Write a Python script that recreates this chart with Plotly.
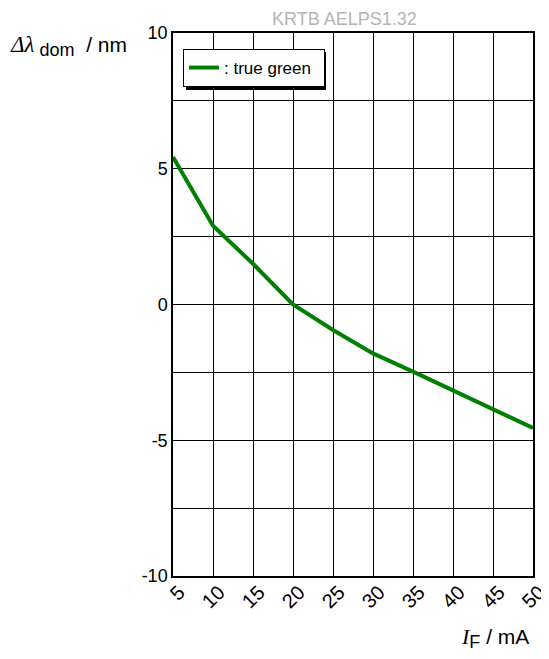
import plotly.graph_objects as go

current_ma = [5, 10, 15, 20, 25, 30, 35, 40, 45, 50]
delta_lambda = [5.43, 2.9, 1.5, 0.0, -0.94, -1.8, -2.47, -3.17, -3.88, -4.55]
series_name = ": true green"
x_ticks = [5, 10, 15, 20, 25, 30, 35, 40, 45, 50]
y_ticks = [-10, -5, 0, 5, 10]
y_tick_labels = ["-10", "-5", "0", "5", "10"]

font = "Liberation Sans, Arial, Helvetica, sans-serif"
serif = "Liberation Serif, Times New Roman, serif"
OFF = 8  # page body margin in the browser
W, H = 549 - OFF, 659 - OFF
L, R, T, B = 173 - OFF, 16, 33 - OFF, 83
pw = W - L - R
ph = H - T - B


def px(x):
    return (x - OFF - L) / pw


def py(y):
    return (H - B - (y - OFF)) / ph


fig = go.Figure()
fig.add_trace(go.Scatter(x=current_ma, y=delta_lambda, mode="lines",
                         line=dict(color="#007f00", width=4),
                         name=series_name, showlegend=True))

fig.update_layout(
    width=W, height=H,
    margin=dict(l=L, r=R, t=T, b=B, autoexpand=False),
    paper_bgcolor="white", plot_bgcolor="white",
    font=dict(family=font, size=18, color="black"),
    showlegend=True,
    legend=dict(x=px(183), y=py(49), xanchor="left", yanchor="top",
                orientation="h",
                bgcolor="white", bordercolor="black", borderwidth=1,
                font=dict(size=17), itemwidth=30, tracegroupgap=0,
                entrywidth=95),
    xaxis=dict(range=[5, 50], tickvals=x_ticks, ticktext=[str(v) for v in x_ticks],
               tickangle=-45, tickfont=dict(size=20),
               ticklabelshift=6, ticklabelstandoff=-5,
               showgrid=True, gridcolor="black", gridwidth=1,
               showline=True, linecolor="black", linewidth=1.5, mirror=True,
               ticks="", zeroline=False, fixedrange=True, automargin=False),
    yaxis=dict(range=[-10, 10], tickvals=y_ticks, ticktext=y_tick_labels,
               showgrid=True, gridcolor="black", gridwidth=1,
               showline=True, linecolor="black", linewidth=1.5, mirror=True,
               ticks="inside", ticklen=4, tickcolor="black",
               minor=dict(dtick=2.5, showgrid=True, gridcolor="black", gridwidth=1,
                          ticks="inside", ticklen=4, tickcolor="black"),
               zeroline=False, fixedrange=True, automargin=False),
    annotations=[
        dict(text="KRTB AELPS1.32", x=px(344), y=py(19), xref="paper", yref="paper",
             xanchor="center", yanchor="middle",
             showarrow=False, font=dict(size=18, color="#b4b4b4")),
        dict(text=(f"<span style='font-family:{serif};font-size:23px'><i>Δλ</i></span>"
                   "<sub><span style='font-size:18px'> dom</span></sub>  / nm"),
             x=px(8), y=py(46), xref="paper", yref="paper",
             xanchor="left", yanchor="middle", showarrow=False,
             font=dict(size=21)),
        dict(text=(f"<span style='font-family:{serif};font-size:22px'><i>I</i></span>"
                   "<sub><span style='font-size:18px'>F</span></sub> / mA"),
             x=px(531), y=py(638), xref="paper", yref="paper",
             xanchor="right", yanchor="middle", showarrow=False,
             font=dict(size=21)),
    ],
)

# legend shadow
x0, x1 = 186, 326
y0, y1 = 52, 90
fig.add_shape(type="rect", xref="paper", yref="paper", layer="above",
              x0=px(x0), x1=px(x1), y0=py(y1), y1=py(y0),
              fillcolor="black", line=dict(width=0))

fig.write_html("out.html")
